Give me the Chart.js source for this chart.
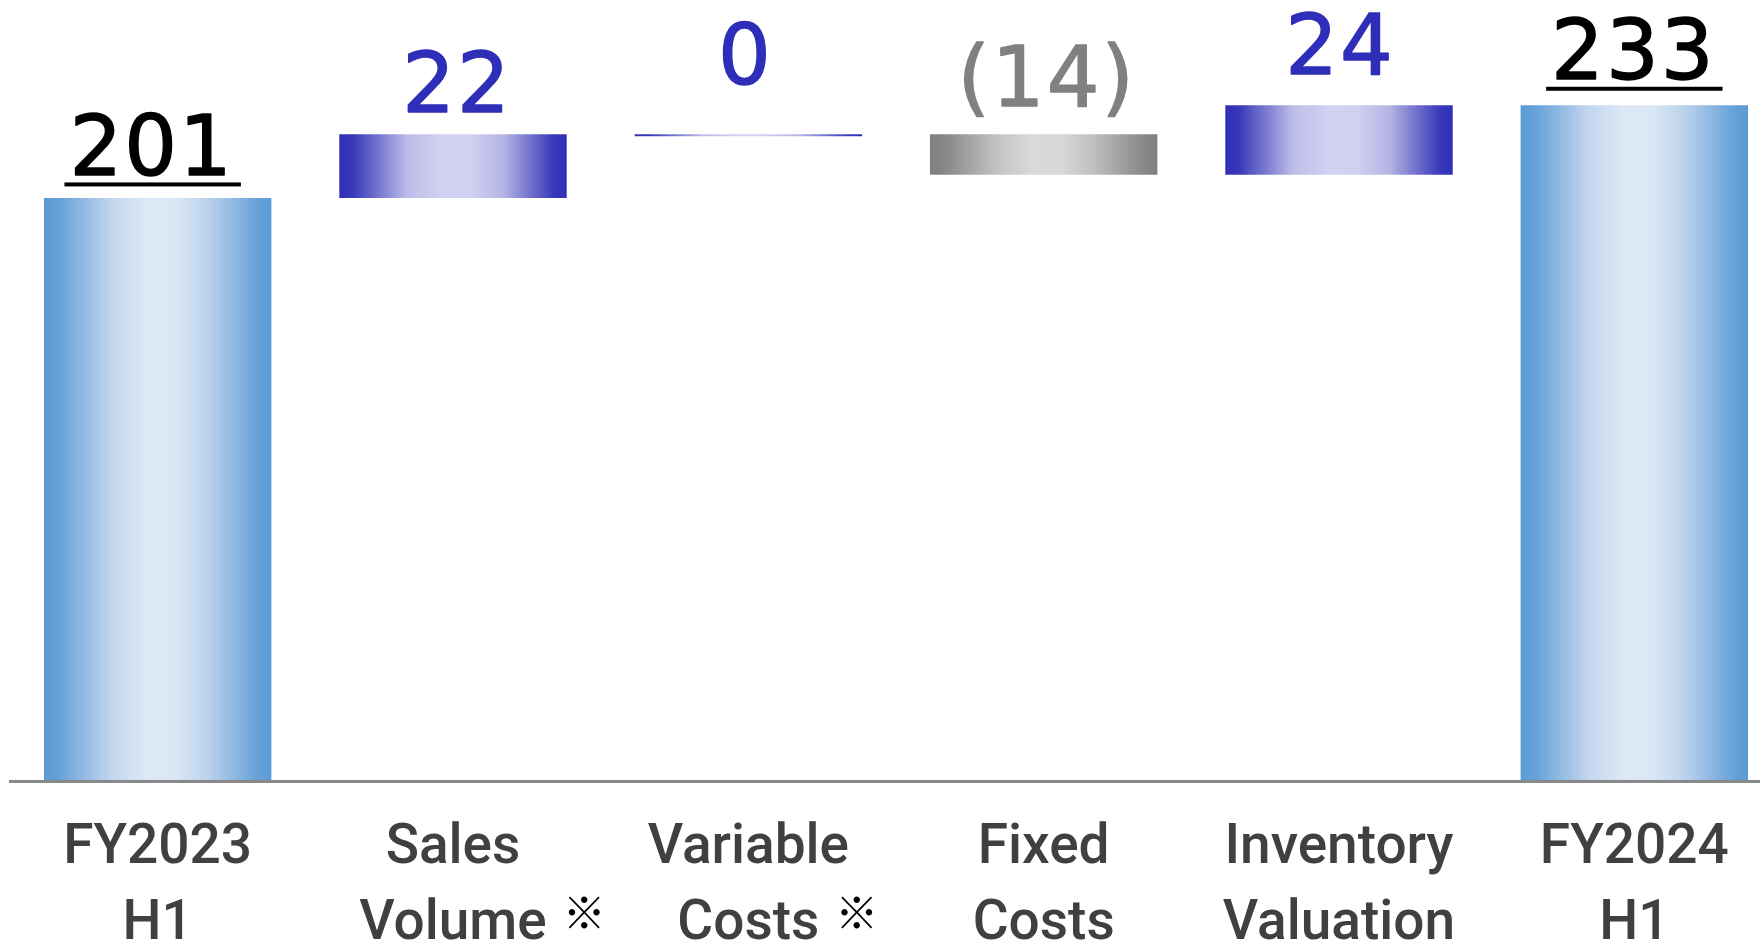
<!DOCTYPE html>
<html>
<head>
<meta charset="utf-8">
<title>Operating profit bridge FY2023 H1 → FY2024 H1</title>
<script src="https://cdn.jsdelivr.net/npm/chart.js@4.4.1/dist/chart.umd.min.js"></script>
<style>
  html, body { margin: 0; padding: 0; background: #ffffff; overflow: hidden; }
  #wrap { position: relative; width: 1792px; height: 944px; }
</style>
</head>
<body>
<div id="wrap"><canvas id="bridge"></canvas></div>
<script>
// ---- data ----
const categories = [
  ["FY2023", "H1"],
  ["Sales", "Volume"],
  ["Variable", "Costs"],
  ["Fixed", "Costs"],
  ["Inventory", "Valuation"],
  ["FY2024", "H1"]
];
const values = [201, 22, 0, -14, 24, 233];
const kinds = ["total", "change", "change", "change", "change", "total"];
const footnoted = [1, 2];          // categories carrying the ※ mark
const footnoteMark = "※";

// label text: negatives shown in parentheses
const valueLabels = values.map(v => (v < 0 ? "(" + (-v) + ")" : String(v)));

// floating ranges for the bridge, built from the running total
let running = 0;
const ranges = values.map((v, i) => {
  if (kinds[i] === "total") { running = v; return [0, v]; }
  const start = running;
  running += v;
  return [Math.min(start, running), Math.max(start, running)];
});

// ---- styling ----
const BAR_PCT = 0.77;
const labelGap = [23, 22, 50, 28, 31, 26];   // space between bar top and label baseline
const labelShift = [-6, 4, -3, 3, 1, -1];    // horizontal nudge of value labels
const styleOf = i => (kinds[i] === "total" ? "total" : (values[i] >= 0 ? "up" : "down"));

const palettes = {
  total: [[0, "#5b9bd5"], [0.06, "#64a0d8"], [0.3, "#c3d6ee"], [0.45, "#dce8f5"],
          [0.58, "#dae7f5"], [0.72, "#bcd2ec"], [0.94, "#66a1d8"], [1, "#5b9bd5"]],
  up:    [[0, "#2f2fb5"], [0.06, "#3838b9"], [0.3, "#bdbde9"], [0.45, "#d1d1f2"],
          [0.58, "#d0d0f1"], [0.72, "#b5b5e5"], [0.94, "#3a3aba"], [1, "#2f2fb5"]],
  down:  [[0, "#7f7f7f"], [0.06, "#868686"], [0.3, "#c4c4c4"], [0.45, "#d9d9d9"],
          [0.58, "#d8d8d8"], [0.72, "#bfbfbf"], [0.94, "#888888"], [1, "#7f7f7f"]]
};
const labelColors = { total: "#000000", up: "#2e2eb8", down: "#808080" };

// horizontal "cylinder" shading across each bar
function barFill(ctx) {
  const chart = ctx.chart;
  const i = ctx.dataIndex;
  const pal = palettes[styleOf(i)];
  const xs = chart.scales && chart.scales.x;
  if (!xs || !chart.chartArea || i === undefined) return pal[0][1];
  const cx = xs.getPixelForValue(i);
  const half = xs.width / categories.length * BAR_PCT / 2;
  if (!isFinite(cx) || !isFinite(half)) return pal[0][1];
  const g = chart.ctx.createLinearGradient(cx - half, 0, cx + half, 0);
  pal.forEach(([o, c]) => g.addColorStop(o, c));
  return g;
}

const TICK_FONT = { family: 'Roboto, "Liberation Sans", sans-serif', size: 55, weight: "500", lineHeight: 76 / 55 };
const TICK_PAD = 30;

// value labels above each bar; totals are underlined
const valueLabelPlugin = {
  id: "valueLabels",
  afterDatasetsDraw(chart) {
    const { ctx } = chart;
    const ys = chart.scales.y;
    const meta = chart.getDatasetMeta(0);
    ctx.save();
    ctx.font = '83px "DejaVu Sans", sans-serif';
    ctx.letterSpacing = "2px";
    ctx.textAlign = "center";
    ctx.textBaseline = "alphabetic";
    ctx.lineWidth = 1.4;
    ctx.lineJoin = "round";
    meta.data.forEach((bar, i) => {
      const top = ys.getPixelForValue(ranges[i][1]);
      const x = bar.x + labelShift[i];
      const y = top - labelGap[i];
      ctx.fillStyle = labelColors[styleOf(i)];
      ctx.strokeStyle = labelColors[styleOf(i)];
      ctx.fillText(valueLabels[i], x, y);
      ctx.strokeText(valueLabels[i], x, y);
      if (kinds[i] === "total") {
        const w = ctx.measureText(valueLabels[i]).width;
        ctx.fillRect(x - w / 2 - 5, y + 7.5, w + 12, 4);
      }
    });
    ctx.restore();
  }
};

// footnote mark after the second line of selected category labels
const footnotePlugin = {
  id: "footnoteMark",
  afterDraw(chart) {
    const { ctx } = chart;
    const xs = chart.scales.x;
    ctx.save();
    footnoted.forEach(i => {
      ctx.font = TICK_FONT.weight + " " + TICK_FONT.size + "px " + TICK_FONT.family;
      const w = ctx.measureText(categories[i][1]).width;
      const x = xs.getPixelForValue(i) + w / 2 + 16;
      const y = xs.top + TICK_PAD + 76 * 1.5 - 13;
      ctx.font = 'bold 43px "Noto Sans CJK JP", sans-serif';
      ctx.textAlign = "left";
      ctx.textBaseline = "middle";
      ctx.fillStyle = "#000000";
      ctx.fillText(footnoteMark, x, y);
    });
    ctx.restore();
  }
};

new Chart(document.getElementById("bridge"), {
  type: "bar",
  data: {
    labels: categories,
    datasets: [{
      data: ranges,
      backgroundColor: barFill,
      borderWidth: 0,
      minBarLength: 2,
      categoryPercentage: 1,
      barPercentage: BAR_PCT
    }]
  },
  options: {
    responsive: true,
    maintainAspectRatio: false,
    animation: false,
    layout: { padding: { left: 10, right: 10, top: 1, bottom: 0 } },
    plugins: { legend: { display: false }, tooltip: { enabled: false } },
    scales: {
      x: {
        grid: { display: false, drawTicks: false },
        border: { display: true, color: "#898989", width: 3 },
        ticks: {
          color: "#404040",
          font: TICK_FONT,
          padding: TICK_PAD,
          maxRotation: 0,
          autoSkip: false
        },
        afterFit(scale) { scale.height = 162.5; }
      },
      y: { display: false, min: -0.5, max: 269 }
    }
  },
  plugins: [valueLabelPlugin, footnotePlugin]
});
</script>
</body>
</html>
